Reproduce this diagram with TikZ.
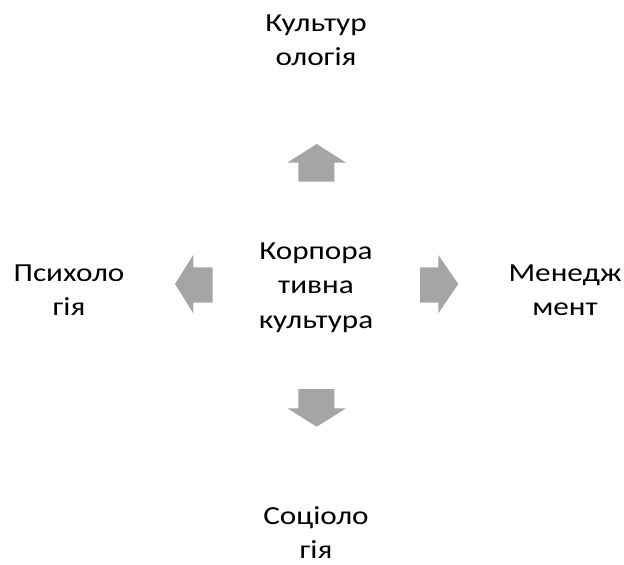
\documentclass[tikz,border=0pt]{standalone}
\usepackage{fontspec}
\setmainfont[FakeStretch=1.2]{Carlito}
\definecolor{arrowgray}{HTML}{A5A5A5}
\begin{document}
\begin{tikzpicture}[x=1pt,y=-1pt,
  lbl/.style={inner sep=0pt, align=center, anchor=base, font=\fontsize{26}{34.5}\selectfont},
  blockarrow/.style={fill=arrowgray, draw=none}]
\useasboundingbox (0,0) rectangle (624,565);
% texts (anchor = baseline of last line)
\node[lbl] (center) at (316,328) {Корпора\\тивна\\культура};
\node[lbl] (top) at (316,65.5) {Культур\\ологія};
\node[lbl] (left) at (69,315.5) {Психоло\\гія};
\node[lbl] (right) at (565,315.5) {Менедж\\мент};
\node[lbl] (bottom) at (316,558.5) {Соціоло\\гія};
% arrows
\fill[blockarrow] (298.3,181.7) -- (298.3,162.7) -- (287.3,162.7) -- (316.7,144) -- (346,162.7) -- (334.3,162.7) -- (334.3,181.7) -- cycle;
\fill[blockarrow] (298.3,389) -- (298.3,408.3) -- (287.3,408.3) -- (316.7,426.7) -- (346,408.3) -- (334.3,408.3) -- (334.3,389) -- cycle;
\fill[blockarrow] (212.7,267.3) -- (193.3,267.3) -- (193.3,255) -- (175,284) -- (193.3,313.3) -- (193.3,302.7) -- (212.7,302.7) -- cycle;
\fill[blockarrow] (420,267.3) -- (438.3,267.3) -- (438.3,255) -- (458.3,284) -- (438.3,313.3) -- (438.3,302.7) -- (420,302.7) -- cycle;
\end{tikzpicture}
\end{document}
